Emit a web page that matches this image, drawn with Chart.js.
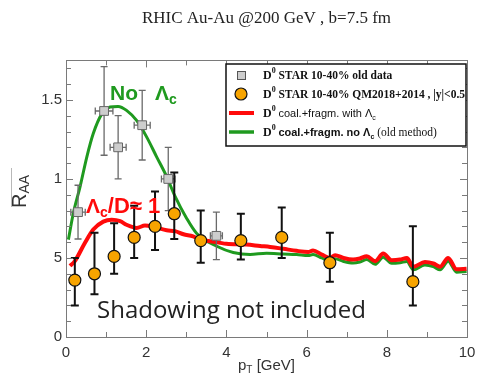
<!DOCTYPE html>
<html>
<head>
<meta charset="utf-8">
<script src="https://cdn.jsdelivr.net/npm/chart.js@4/dist/chart.umd.min.js"></script>
<style>
  html, body { margin: 0; padding: 0; background: #fff; }
  #wrap { width: 485px; height: 375px; }
</style>
</head>
<body>
<div id="wrap"><canvas id="c" width="485" height="375"></canvas></div>
<script>
// ---- data -------------------------------------------------------------
const titleText = 'RHIC Au-Au @200 GeV , b=7.5 fm';

// STAR 10-40% old data (grey squares)
const oldPt   = [0.30, 0.95, 1.30, 1.90, 2.55, 3.75];
const oldRaa  = [0.79, 1.43, 1.20, 1.34, 1.00, 0.64];
const oldErrY = [0.17, 0.28, 0.20, 0.22, 0.20, 0.15];
const oldErrX = [0.18, 0.22, 0.20, 0.20, 0.17, 0.15];

// STAR 10-40% QM2018+2014 (orange circles)
const qmPt    = [0.22, 0.71, 1.20, 1.70, 2.22, 2.70, 3.36, 4.36, 5.38, 6.58, 8.65];
const qmRaa   = [0.36, 0.40, 0.51, 0.63, 0.70, 0.78, 0.61, 0.61, 0.63, 0.47, 0.35];
const qmErrUp = [0.14, 0.26, 0.21, 0.20, 0.22, 0.26, 0.19, 0.17, 0.19, 0.19, 0.35];
const qmErrDn = [0.16, 0.13, 0.11, 0.13, 0.15, 0.16, 0.14, 0.12, 0.13, 0.12, 0.15];

// coal.+fragm. with Lambda_c (red)
const withPt  = [0.10, 0.22, 0.47, 0.68, 0.93, 1.14, 1.35, 1.51, 1.76, 1.97, 2.22, 2.51, 2.72,
                 2.93, 3.17, 3.34, 3.59, 4.00, 4.50, 4.84, 5.09, 5.42, 5.75, 6.04, 6.16, 6.38,
                 6.58, 6.71, 6.92, 7.16, 7.33, 7.50, 7.71, 7.91, 8.12, 8.33, 8.50, 8.66, 8.95,
                 9.16, 9.33, 9.53, 9.74, 9.99];
const withRaa = [0.45, 0.48, 0.595, 0.68, 0.73, 0.742, 0.733, 0.71, 0.69, 0.705, 0.694, 0.675, 0.67,
                 0.65, 0.637, 0.616, 0.606, 0.59, 0.585, 0.576, 0.57, 0.558, 0.545, 0.538, 0.547, 0.522,
                 0.50, 0.518, 0.50, 0.49, 0.497, 0.511, 0.48, 0.528, 0.486, 0.49, 0.50, 0.445, 0.474,
                 0.465, 0.445, 0.50, 0.428, 0.432];

// coal.+fragm. no Lambda_c (green)
const noPt    = [0.06, 0.18, 0.35, 0.52, 0.68, 0.89, 1.10, 1.30, 1.51, 1.76, 2.01, 2.26, 2.51,
                 2.72, 3.01, 3.26, 3.76, 4.17, 4.59, 5.00, 5.42, 5.75, 6.04, 6.16, 6.38, 6.58,
                 6.71, 6.92, 7.16, 7.33, 7.50, 7.71, 7.91, 8.12, 8.33, 8.50, 8.66, 8.95, 9.16,
                 9.33, 9.53, 9.74, 9.99];
const noRaa   = [0.616, 0.78, 0.95, 1.14, 1.287, 1.41, 1.455, 1.459, 1.434, 1.37, 1.266, 1.14, 1.015,
                 0.89, 0.75, 0.655, 0.574, 0.535, 0.522, 0.53, 0.525, 0.522, 0.515, 0.522, 0.50, 0.48,
                 0.495, 0.478, 0.468, 0.475, 0.49, 0.46, 0.505, 0.466, 0.47, 0.478, 0.425, 0.455, 0.445,
                 0.425, 0.48, 0.41, 0.415];

// axes
const xMin = 0, xMax = 10;
const yMin = 0, yMax = 1.75;
const xTickLabels = ['0', '2', '4', '6', '8', '10'];
const xMinorTicks = [0, 1, 2, 3, 4, 5, 6, 7, 8, 9, 10];
const yTickValues = [0, 0.5, 1, 1.5];
const yTickLabels = ['0', '5', '1', '1.5'];
const yMinorTicks = [0, 0.1, 0.2, 0.3, 0.4, 0.5, 0.6, 0.7, 0.8, 0.9, 1.0, 1.1, 1.2, 1.3, 1.4, 1.5, 1.6, 1.7];

// legend
const legendLabels = [
  'STAR 10-40% old data',
  'STAR 10-40% QM2018+2014 , |y|<0.5',
  'coal.+fragm. with Λ',
  'coal.+fragm. no Λ'
];

// ---- colours ------------------------------------------------------------
const RED = '#ff0a0a';
const GREEN = '#1f9a1f';
const ORANGE = '#f7a400';
const GREY = '#cdcdcd';
const AXIS = '#7a7a7a';
const TEXT = '#333';

const zip = (xs, ys) => xs.map((x, i) => ({ x, y: ys[i] }));

// ---- helpers -------------------------------------------------------------
function runs(ctx, x, y, parts) {
  // parts: [text, font, baselineShift]
  for (const [t, f, dy] of parts) {
    ctx.font = f;
    ctx.fillText(t, x, y + (dy || 0));
    x += ctx.measureText(t).width;
  }
  return x;
}
function runsWidth(ctx, parts) {
  let w = 0;
  for (const [t, f] of parts) { ctx.font = f; w += ctx.measureText(t).width; }
  return w;
}

// error bars, drawn just before their own points
const errorBars = {
  id: 'errorBars',
  beforeDatasetDraw(chart, args) {
    const { ctx, scales: { x, y } } = chart;
    ctx.save();
    if (args.index === 0) {
      ctx.strokeStyle = '#111';
      ctx.lineWidth = 2;
      qmPt.forEach((p, i) => {
        const px = x.getPixelForValue(p);
        const top = y.getPixelForValue(qmRaa[i] + qmErrUp[i]);
        const bot = y.getPixelForValue(qmRaa[i] - qmErrDn[i]);
        ctx.beginPath();
        ctx.moveTo(px, top); ctx.lineTo(px, bot);
        ctx.moveTo(px - 4, top); ctx.lineTo(px + 4, top);
        ctx.moveTo(px - 4, bot); ctx.lineTo(px + 4, bot);
        ctx.stroke();
      });
    } else if (args.index === 1) {
      ctx.strokeStyle = '#6a6a6a';
      ctx.lineWidth = 1.3;
      oldPt.forEach((p, i) => {
        const px = x.getPixelForValue(p);
        const py = y.getPixelForValue(oldRaa[i]);
        const top = y.getPixelForValue(oldRaa[i] + oldErrY[i]);
        const bot = y.getPixelForValue(oldRaa[i] - oldErrY[i]);
        const l = x.getPixelForValue(p - oldErrX[i]);
        const r = x.getPixelForValue(p + oldErrX[i]);
        ctx.beginPath();
        ctx.moveTo(px, top); ctx.lineTo(px, bot);
        ctx.moveTo(px - 3.5, top); ctx.lineTo(px + 3.5, top);
        ctx.moveTo(px - 3.5, bot); ctx.lineTo(px + 3.5, bot);
        ctx.moveTo(l, py); ctx.lineTo(r, py);
        ctx.moveTo(l, py - 3.5); ctx.lineTo(l, py + 3.5);
        ctx.moveTo(r, py - 3.5); ctx.lineTo(r, py + 3.5);
        ctx.stroke();
      });
    }
    ctx.restore();
  }
};

// frame with inward ticks, axis titles, annotations and the legend box
const decorations = {
  id: 'decorations',
  afterDraw(chart) {
    const { ctx, chartArea: a, scales: { x, y } } = chart;
    ctx.save();

    // frame
    ctx.strokeStyle = AXIS;
    ctx.lineWidth = 1;
    ctx.strokeRect(Math.round(a.left) + 0.5, Math.round(a.top) + 0.5,
                   Math.round(a.right - a.left), Math.round(a.bottom - a.top));
    ctx.beginPath();
    xMinorTicks.forEach(v => {
      const px = Math.round(x.getPixelForValue(v)) + 0.5;
      const len = v % 2 === 0 ? 7 : 5;
      ctx.moveTo(px, a.bottom); ctx.lineTo(px, a.bottom - len);
      ctx.moveTo(px, a.top); ctx.lineTo(px, a.top + len);
    });
    yMinorTicks.forEach(v => {
      const py = Math.round(y.getPixelForValue(v)) + 0.5;
      const len = Math.abs(v * 2 - Math.round(v * 2)) < 1e-6 ? 7 : 5;
      ctx.moveTo(a.left, py); ctx.lineTo(a.left + len, py);
      ctx.moveTo(a.right, py); ctx.lineTo(a.right - len, py);
    });
    ctx.stroke();

    // x title
    ctx.fillStyle = TEXT;
    ctx.textBaseline = 'alphabetic';
    ctx.textAlign = 'left';
    const xTitle = [['p', '15px "Liberation Sans"'], ['T', '10px "Liberation Sans"', 3], [' [GeV]', '15px "Liberation Sans"']];
    runs(ctx, (a.left + a.right) / 2 - runsWidth(ctx, xTitle) / 2, 370, xTitle);

    // y title
    ctx.save();
    ctx.translate(26, 208);
    ctx.rotate(-Math.PI / 2);
    ctx.fillStyle = TEXT;
    runs(ctx, 0, 0, [['R', '20px "Liberation Sans"'], ['AA', '14px "Liberation Sans"', 3]]);
    ctx.restore();
    ctx.strokeStyle = '#b8b8b8';
    ctx.lineWidth = 1;
    ctx.beginPath();
    ctx.moveTo(11.5, 168); ctx.lineTo(11.5, 207);
    ctx.stroke();

    // curve annotations
    ctx.fillStyle = GREEN;
    runs(ctx, 110, 100, [['No', 'bold 21px "Liberation Sans"']]);
    runs(ctx, 155, 100, [['Λ', 'bold 21px "Liberation Sans"'], ['c', 'bold 14px "Liberation Sans"', 4]]);
    ctx.fillStyle = RED;
    runs(ctx, 86, 213, [['Λ', 'bold 21px "Liberation Sans"'], ['c', 'bold 14px "Liberation Sans"', 4],
                        ['/D≈ 1', 'bold 22px "Liberation Sans"']]);
    ctx.fillStyle = '#222';
    ctx.font = '24px "Open Sans"';
    ctx.fillText('Shadowing not included', 97, 318);

    // legend
    const L = 226, T = 64, R = 466, B = 146;
    ctx.fillStyle = '#fff';
    ctx.fillRect(L, T, R - L, B - T);
    ctx.strokeStyle = '#111';
    ctx.lineWidth = 1.5;
    ctx.strokeRect(L, T, R - L, B - T);
    const rows = [75, 94, 113, 132];
    const sx = 241;
    // symbols
    ctx.fillStyle = GREY; ctx.strokeStyle = '#555'; ctx.lineWidth = 1;
    ctx.fillRect(sx - 4, rows[0] - 4, 8, 8);
    ctx.strokeRect(sx - 4 + 0.5, rows[0] - 4 + 0.5, 8, 8);
    ctx.beginPath(); ctx.arc(sx, rows[1], 6, 0, Math.PI * 2);
    ctx.fillStyle = ORANGE; ctx.fill(); ctx.strokeStyle = '#111'; ctx.lineWidth = 1.2; ctx.stroke();
    ctx.lineWidth = 4; ctx.strokeStyle = RED;
    ctx.beginPath(); ctx.moveTo(229, rows[2]); ctx.lineTo(254, rows[2]); ctx.stroke();
    ctx.lineWidth = 3.5; ctx.strokeStyle = GREEN;
    ctx.beginPath(); ctx.moveTo(229, rows[3]); ctx.lineTo(254, rows[3]); ctx.stroke();
    // texts
    ctx.fillStyle = '#111';
    const D0 = [['D', 'bold 12px "Liberation Serif"'], ['0', 'bold 8px "Liberation Serif"', -6], [' ', '11px "Liberation Serif"']];
    const tx = 263;
    runs(ctx, tx, rows[0] + 4, D0.concat([[legendLabels[0], 'bold 11.5px "Liberation Serif"']]));
    runs(ctx, tx, rows[1] + 4, D0.concat([[legendLabels[1], 'bold 11.5px "Liberation Serif"']]));
    runs(ctx, tx, rows[2] + 4, D0.concat([[legendLabels[2], '11px "Liberation Sans"'], ['c', '7px "Liberation Sans"', 3]]));
    runs(ctx, tx, rows[3] + 4, D0.concat([[legendLabels[3], 'bold 11px "Liberation Sans"'], ['c', 'bold 7px "Liberation Sans"', 3],
                                          [' (old method)', '11.5px "Liberation Serif"']]));
    ctx.restore();
  }
};

new Chart(document.getElementById('c'), {
  type: 'scatter',
  data: {
    datasets: [
      {
        label: 'D0 STAR 10-40% QM2018+2014',
        data: zip(qmPt, qmRaa),
        pointRadius: 6,
        pointBackgroundColor: ORANGE,
        pointBorderColor: '#111',
        pointBorderWidth: 1.2,
        order: 1
      },
      {
        label: 'D0 STAR 10-40% old data',
        data: zip(oldPt, oldRaa),
        pointStyle: 'rect',
        pointRadius: 6.2,
        pointBackgroundColor: GREY,
        pointBorderColor: '#666',
        pointBorderWidth: 1,
        order: 2
      },
      {
        type: 'line',
        label: 'D0 coal.+fragm. with Lc',
        data: zip(withPt, withRaa),
        borderColor: RED,
        borderWidth: 4,
        pointRadius: 0,
        fill: false,
        cubicInterpolationMode: 'monotone',
        order: 3
      },
      {
        type: 'line',
        label: 'D0 coal.+fragm. no Lc',
        data: zip(noPt, noRaa),
        borderColor: GREEN,
        borderWidth: 3,
        pointRadius: 0,
        fill: false,
        cubicInterpolationMode: 'monotone',
        order: 4
      }
    ]
  },
  options: {
    responsive: false,
    animation: false,
    devicePixelRatio: 1,
    layout: { padding: { left: 0, right: 18, top: 0, bottom: 0 } },
    plugins: {
      legend: { display: false },
      tooltip: { enabled: false },
      title: {
        display: true,
        fullSize: false,
        text: titleText,
        color: '#222',
        font: { family: '"Liberation Serif"', size: 17, weight: 'normal' },
        padding: { top: 8, bottom: 32 }
      }
    },
    scales: {
      x: {
        type: 'linear',
        min: xMin, max: xMax,
        grid: { display: false, drawTicks: false },
        border: { display: false },
        ticks: {
          stepSize: 2,
          padding: 7,
          color: TEXT,
          font: { family: '"Liberation Sans"', size: 15 },
          callback: (v) => xTickLabels[Math.round(v / 2)]
        },
        afterFit: (s) => { s.height = 38; }
      },
      y: {
        min: yMin, max: yMax,
        grid: { display: false, drawTicks: false },
        border: { display: false },
        ticks: {
          stepSize: 0.5,
          padding: 4,
          color: TEXT,
          font: { family: '"Liberation Sans"', size: 15 },
          callback: (v) => {
            const i = yTickValues.findIndex(t => Math.abs(t - v) < 1e-6);
            return i < 0 ? '' : yTickLabels[i];
          }
        },
        afterFit: (s) => { s.width = 66; }
      }
    }
  },
  plugins: [errorBars, decorations]
});
</script>
</body>
</html>
